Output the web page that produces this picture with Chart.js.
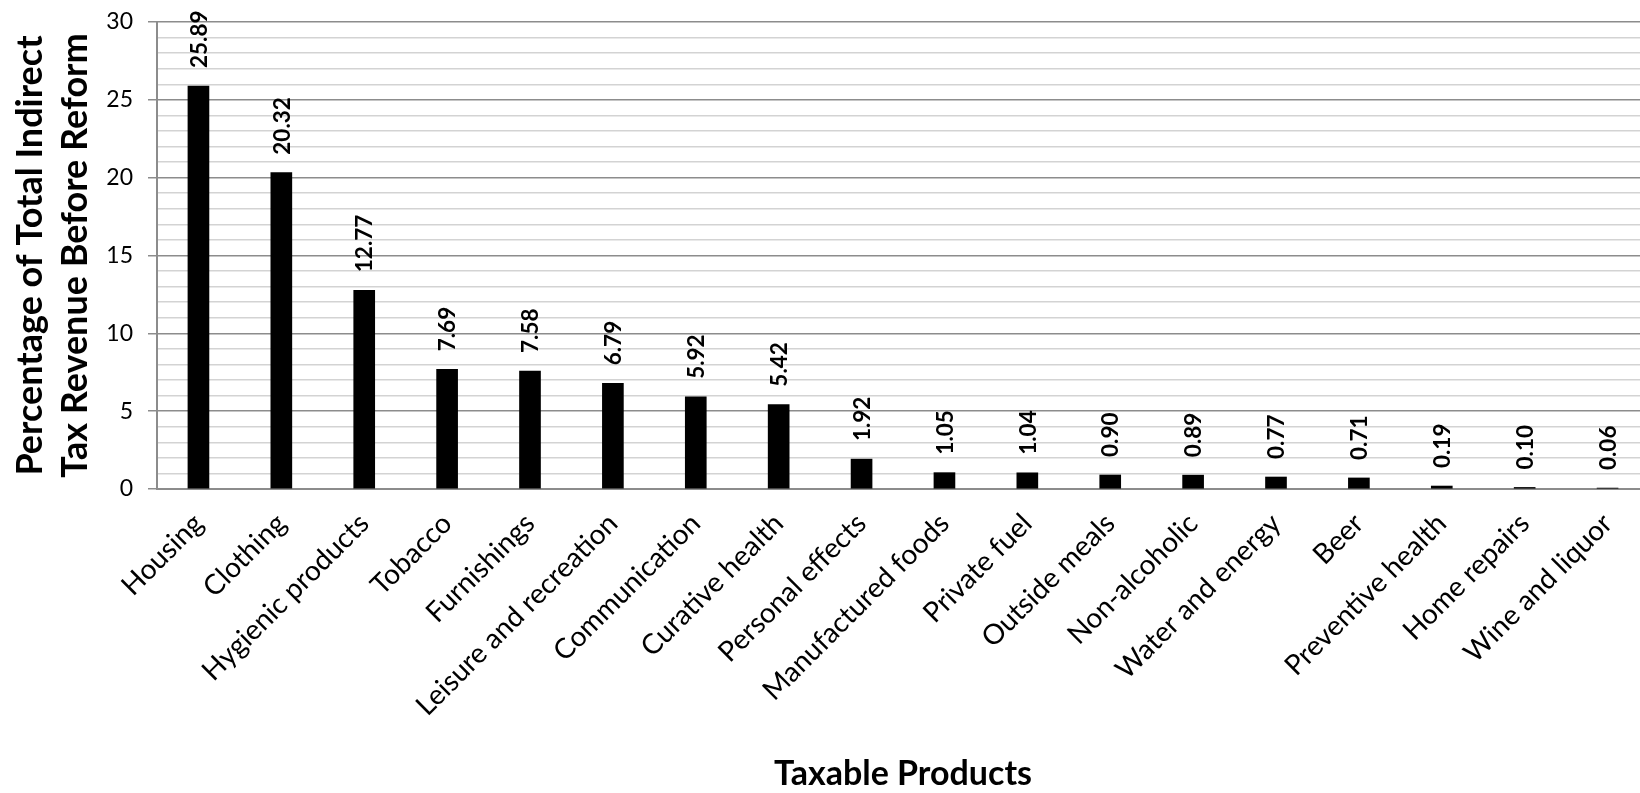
<!DOCTYPE html>
<html>
<head>
<meta charset="utf-8">
<title>Taxable Products</title>
<script src="https://cdn.jsdelivr.net/npm/chart.js@4.4.1/dist/chart.umd.min.js"></script>
<style>
  html, body { margin: 0; padding: 0; background: #ffffff; overflow: hidden; }
  #wrap { width: 1650px; height: 793px; position: relative; }
</style>
</head>
<body>
<div id="wrap"><canvas id="chart" width="1650" height="793"></canvas></div>
<script>
// Share of total indirect tax revenue by product group (percent)
const categories = [
  'Housing', 'Clothing', 'Hygienic products', 'Tobacco', 'Furnishings',
  'Leisure and recreation', 'Communication', 'Curative health', 'Personal effects',
  'Manufactured foods', 'Private fuel', 'Outside meals', 'Non-alcoholic',
  'Water and energy', 'Beer', 'Preventive health', 'Home repairs', 'Wine and liquor'
];
const shares = [
  25.89, 20.32, 12.77, 7.69, 7.58, 6.79, 5.92, 5.42, 1.92,
  1.05, 1.04, 0.90, 0.89, 0.77, 0.71, 0.19, 0.10, 0.06
];
const yTickLabels = [0, 5, 10, 15, 20, 25, 30];
const xAxisTitle = 'Taxable Products';
const yAxisTitle = ['Percentage of Total Indirect', 'Tax Revenue Before Reform'];

const FONT = 'Lato';
const MAJOR_GRID = '#8c8c8c';
const MINOR_GRID = '#d3d3d3';

// Rotated value labels placed just above each bar
const barValueLabels = {
  id: 'barValueLabels',
  afterDatasetsDraw(chart) {
    const ctx = chart.ctx;
    const meta = chart.getDatasetMeta(0);
    const font = Chart.helpers.toFont({ family: FONT, size: 22.5, weight: 'bold' });
    meta.data.forEach((bar, i) => {
      Chart.helpers.renderText(ctx, shares[i].toFixed(2), 0, 0, font, {
        color: '#000000',
        rotation: -Math.PI / 2,
        textAlign: 'left',
        textBaseline: 'middle',
        translation: [bar.x + 1, bar.y - 18]
      });
    });
  }
};

function draw() {
  new Chart(document.getElementById('chart'), {
    type: 'bar',
    data: {
      labels: categories,
      datasets: [{
        data: shares,
        backgroundColor: '#000000',
        borderWidth: 0,
        barThickness: 21
      }]
    },
    options: {
      responsive: false,
      animation: false,
      devicePixelRatio: 1,
      layout: { padding: { top: 22, right: 1, left: 0, bottom: 0 } },
      plugins: {
        legend: { display: false },
        tooltip: { enabled: false }
      },
      scales: {
        x: {
          grid: { display: false, drawTicks: false },
          border: { display: true, color: MAJOR_GRID, width: 2 },
          ticks: {
            autoSkip: false,
            minRotation: 45,
            maxRotation: 45,
            padding: 18,
            color: '#000000',
            font: { family: FONT, size: 28 }
          },
          title: {
            display: true,
            text: xAxisTitle,
            color: '#000000',
            font: { family: FONT, size: 34, weight: 'bold', lineHeight: 1 },
            padding: { top: 0, bottom: 2 }
          },
          afterFit(scale) {
            scale.height = 304;
            scale.paddingLeft = 0;
            scale.paddingRight = 0;
          }
        },
        y: {
          min: 0,
          max: 30,
          ticks: {
            stepSize: 1,
            autoSkip: false,
            padding: 15,
            color: '#000000',
            font: { family: FONT, size: 23 },
            callback: (v) => yTickLabels.includes(v) ? String(v) : ''
          },
          grid: {
            color: (c) => (c.tick && c.tick.value % 5 === 0) ? MAJOR_GRID : MINOR_GRID,
            tickColor: (c) => (c.tick && c.tick.value % 5 === 0) ? MAJOR_GRID : 'rgba(0,0,0,0)',
            lineWidth: 1.5,
            tickLength: 9
          },
          border: { display: true, color: MAJOR_GRID, width: 2 },
          title: {
            display: true,
            text: yAxisTitle,
            color: '#000000',
            font: { family: FONT, size: 36, weight: 'bold', lineHeight: 1.25 },
            padding: { top: 8, bottom: 0 }
          },
          afterFit(scale) {
            scale.width = 157;
            scale.paddingTop = 0;
            scale.paddingBottom = 0;
          }
        }
      }
    },
    plugins: [barValueLabels]
  });
}

Promise.all([
  document.fonts.load('24px ' + FONT),
  document.fonts.load('bold 32px ' + FONT)
]).then(draw, draw);
</script>
</body>
</html>
